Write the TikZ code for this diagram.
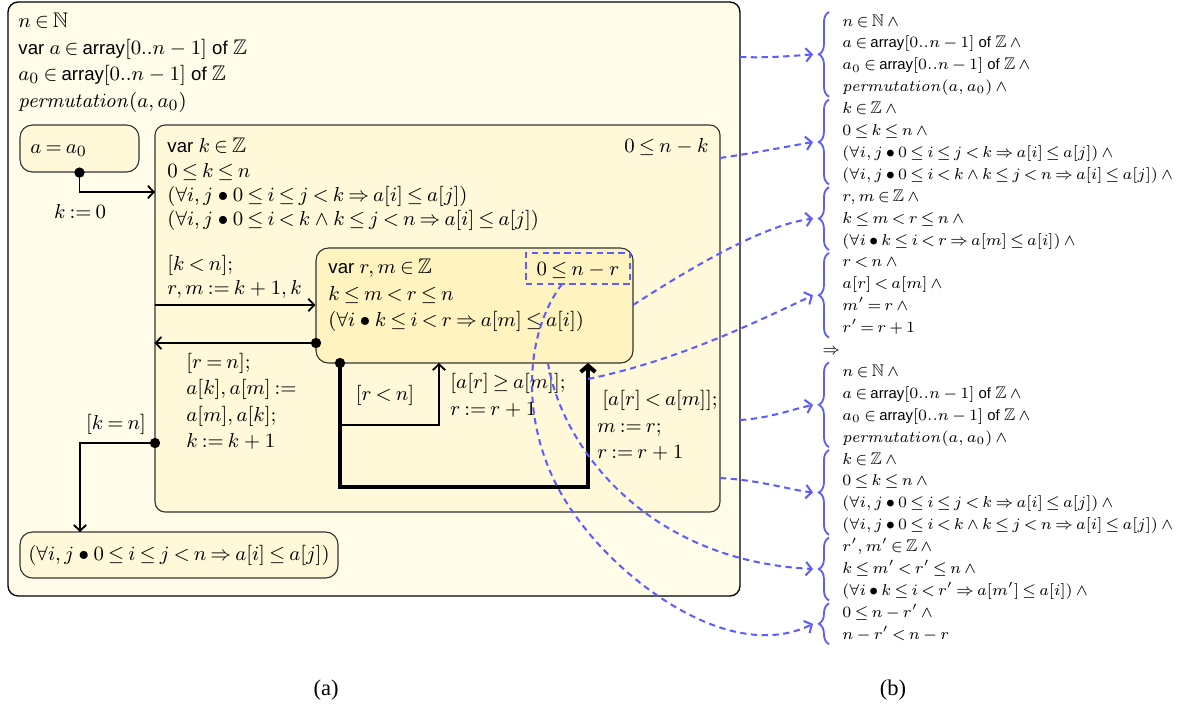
\documentclass[tikz,border=0pt]{standalone}
\usepackage{amssymb}
\usepackage[no-math]{fontspec}
\setmainfont{Liberation Serif}
\setsansfont{Liberation Sans}[Scale=0.88]
\usetikzlibrary{arrows.meta,fit,decorations.pathreplacing}
\definecolor{outerfill}{RGB}{255,252,234}
\definecolor{midfill}{RGB}{255,249,218}
\definecolor{innerfill}{RGB}{255,244,192}
\definecolor{linkblue}{RGB}{92,92,255}
\newcommand\sfw[1]{\textsf{#1}}
\newcommand\rline[2]{\node[rtxt] (r#1) at (842,{26+21.9*#1}) {#2};}
\newcommand\rfont{\fontsize{7.5}{9}\selectfont\thickmuskip=3mu plus 1mu\medmuskip=3mu plus 1mu}
\begin{document}
\thickmuskip=3.5mu plus 2mu minus 1mu
\begin{tikzpicture}[x=0.4444pt,y=-0.4444pt,
  font=\fontsize{9.4}{11}\selectfont,
  txt/.style={inner sep=0pt,anchor=base west},
  ctxt/.style={inner sep=0pt,anchor=base},
  rtxt/.style={inner sep=0pt,anchor=base west,font=\rfont},
  frame/.style={draw=black!80,line width=0.5pt,rounded corners=4.5pt,inner sep=0pt},
  conn/.style={line width=0.8pt,-{Straight Barb[length=2.6pt,width=5.5pt]}},
  heavy/.style={line width=1.8pt,-{Straight Barb[length=2.8pt,width=6.5pt]}},
  link/.style={draw=linkblue,line width=0.9pt,dash pattern=on 2.8pt off 2pt,-{Straight Barb[length=2.6pt,width=6pt]}},
  brc/.style={draw=linkblue,line width=0.8pt,decorate,decoration={brace,amplitude=4.5pt}}]
\useasboundingbox (0,0) rectangle (1196,704);

% ---------- boxes ----------
\coordinate (O1) at (8,2);     \coordinate (O2) at (740,596);
\node[frame,draw=black,line width=0.6pt,fill=outerfill,fit=(O1)(O2)] (outer) {};
\coordinate (I1) at (20,125);  \coordinate (I2) at (139,172);
\node[frame,fill=midfill,rounded corners=5.5pt,fit=(I1)(I2)] (init) {};
\coordinate (M1) at (155,125); \coordinate (M2) at (720,512);
\node[frame,fill=midfill,fit=(M1)(M2)] (mid) {};
\coordinate (N1) at (316,248); \coordinate (N2) at (633,363);
\node[frame,fill=innerfill,rounded corners=5.5pt,fit=(N1)(N2)] (inner) {};
\coordinate (D1) at (526,253); \coordinate (D2) at (630,284);
\node[draw=linkblue,line width=0.9pt,dash pattern=on 2.8pt off 2pt,inner sep=0pt,fit=(D1)(D2)] (var) {};
\coordinate (F1) at (20,532);  \coordinate (F2) at (338,578);
\node[frame,fill=midfill,rounded corners=5.5pt,fit=(F1)(F2)] (final) {};

% ---------- texts in the boxes ----------
\node[txt] (o1) at (18,27) {$n \in \mathbb{N}$};
\node[txt] (o2) at (18,54) {$\sfw{var}\ a \in \sfw{array}[0..n-1]\ \sfw{of}\ \mathbb{Z}$};
\node[txt] (o3) at (18,80) {$a_0 \in \sfw{array}[0..n-1]\ \sfw{of}\ \mathbb{Z}$};
\node[txt] (o4) at (18,107) {$\mathit{permutation}(a,a_0)$};

\node[txt] (t0) at (30,153) {$a = a_0$};

\node[txt] (m1) at (167,152) {$\sfw{var}\ k \in \mathbb{Z}$};
\node[txt] (m2) at (167,177) {$0 \le k \le n$};
\node[txt] (m3) at (167,201) {$(\forall i,j \bullet 0 \le i \le j < k \Rightarrow a[i] \le a[j])$};
\node[txt] (m4) at (167,225) {$(\forall i,j \bullet 0 \le i < k \wedge k \le j < n \Rightarrow a[i] \le a[j])$};
\node[inner sep=0pt,anchor=base east] (mv) at (709,152) {$0 \le n-k$};

\node[txt] (n1) at (328,273) {$\sfw{var}\ r,m \in \mathbb{Z}$};
\node[txt] (n2) at (328,300) {$k \le m < r \le n$};
\node[txt] (n3) at (328,326) {$(\forall i \bullet k \le i < r \Rightarrow a[m] \le a[i])$};
\node[ctxt] (nv) at (var.center |- 0,275) {$0 \le n-r$};

\node[ctxt,font=\fontsize{9}{11}\selectfont] (f1) at (179,560) {$(\forall i,j \bullet 0 \le i \le j < n \Rightarrow a[i] \le a[j])$};

% ---------- connectors ----------
\coordinate (kin) at (155,192);
\fill (init.south) circle (2.3pt);
\draw[conn] (init.south) |- (kin);
\node[ctxt] (lk0) at (80,218) {$k := 0$};

\coordinate (kout) at (155,305);
\draw[conn] (kout) -- (inner.west |- kout);
\node[txt] (lkn1) at (167,270) {$[k<n];$};
\node[txt] (lkn2) at (167,294) {$r,m := k+1,k$};

\coordinate (rn) at (316,343);
\fill (rn) circle (2.3pt);
\draw[conn] (rn) -- (mid.west |- rn);
\node[txt] (lrn1) at (186,368) {$[r=n];$};
\node[txt] (lrn2) at (186,394) {$a[k],a[m] :=$};
\node[txt] (lrn3) at (186,421) {$a[m],a[k];$};
\node[txt] (lrn4) at (186,447) {$k := k+1$};

\coordinate (kn) at (155,443);
\coordinate (finin) at (80,532);
\fill (kn) circle (2.3pt);
\draw[conn] (kn) -| (finin);
\node[ctxt] (lkn) at (116,429) {$[k=n]$};

\coordinate (loop) at (340,363);
\coordinate (lbot) at (588,487);
\coordinate (lc) at (588,363);
\coordinate (br) at (340,425);
\coordinate (lt) at (439,363);
\draw[conn] (br) -| (lt);
\draw[heavy] (loop) |- (lbot) -- (lc);
\fill (loop) circle (2.3pt);
\node[ctxt] (lrl) at (385,400) {$[r<n]$};
\node[txt] (lge1) at (450,388) {$[a[r] \ge a[m]];$};
\node[txt] (lge2) at (450,415) {$r := r+1$};
\node[txt] (llt1) at (602,405) {$[a[r] < a[m]];$};
\node[txt] (llt2) at (597,432) {$m := r;$};
\node[txt] (llt3) at (597,458) {$r := r+1$};

% ---------- right column ----------
\rline{0}{$n \in \mathbb{N} \wedge{}$}
\rline{1}{$a \in \sfw{array}[0..n-1]\ \sfw{of}\ \mathbb{Z} \wedge{}$}
\rline{2}{$a_0 \in \sfw{array}[0..n-1]\ \sfw{of}\ \mathbb{Z} \wedge{}$}
\rline{3}{$\mathit{permutation}(a,a_0) \wedge{}$}
\rline{4}{$k \in \mathbb{Z} \wedge{}$}
\rline{5}{$0 \le k \le n \wedge{}$}
\rline{6}{$(\forall i,j \bullet 0 \le i \le j < k \Rightarrow a[i] \le a[j]) \wedge{}$}
\rline{7}{$(\forall i,j \bullet 0 \le i < k \wedge k \le j < n \Rightarrow a[i] \le a[j]) \wedge{}$}
\rline{8}{$r,m \in \mathbb{Z} \wedge{}$}
\rline{9}{$k \le m < r \le n \wedge{}$}
\rline{10}{$(\forall i \bullet k \le i < r \Rightarrow a[m] \le a[i]) \wedge{}$}
\rline{11}{$r < n \wedge{}$}
\rline{12}{$a[r] < a[m] \wedge{}$}
\rline{13}{$m' = r \wedge{}$}
\rline{14}{$r' = r+1$}
\node[rtxt] (r15) at (822,{26+21.9*15}) {$\Rightarrow$};
\rline{16}{$n \in \mathbb{N} \wedge{}$}
\rline{17}{$a \in \sfw{array}[0..n-1]\ \sfw{of}\ \mathbb{Z} \wedge{}$}
\rline{18}{$a_0 \in \sfw{array}[0..n-1]\ \sfw{of}\ \mathbb{Z} \wedge{}$}
\rline{19}{$\mathit{permutation}(a,a_0) \wedge{}$}
\rline{20}{$k \in \mathbb{Z} \wedge{}$}
\rline{21}{$0 \le k \le n \wedge{}$}
\rline{22}{$(\forall i,j \bullet 0 \le i \le j < k \Rightarrow a[i] \le a[j]) \wedge{}$}
\rline{23}{$(\forall i,j \bullet 0 \le i < k \wedge k \le j < n \Rightarrow a[i] \le a[j]) \wedge{}$}
\rline{24}{$r',m' \in \mathbb{Z} \wedge{}$}
\rline{25}{$k \le m' < r' \le n \wedge{}$}
\rline{26}{$(\forall i \bullet k \le i < r' \Rightarrow a[m'] \le a[i]) \wedge{}$}
\rline{27}{$0 \le n-r' \wedge{}$}
\rline{28}{$n-r' < n-r$}

% braces
\draw[brc] (829,96.7) -- (829,12);
\draw[brc] (829,184.3) -- (829,99.6);
\draw[brc] (829,250) -- (829,187.2);
\draw[brc] (829,337.6) -- (829,252.9);
\draw[brc] (829,447.1) -- (829,362.4);
\draw[brc] (829,534.7) -- (829,450);
\draw[brc] (829,600.4) -- (829,537.6);
\draw[brc] (829,644.2) -- (829,603.3);
\coordinate (g1) at (813,54.4);
\coordinate (g2) at (813,142);
\coordinate (g3) at (813,218.6);
\coordinate (g4) at (813,295.3);
\coordinate (g5) at (813,404.8);
\coordinate (g6) at (813,492.4);
\coordinate (g7) at (813,569);
\coordinate (g8) at (813,623.8);

% ---------- dashed links ----------
\coordinate (s1) at (740,57);
\coordinate (s2) at (720,158);
\coordinate (s3) at (633,305);
\coordinate (s4) at (588,379);
\coordinate (s5) at (740,420);
\coordinate (s6) at (720,478);
\coordinate (s7) at (548,363);
\coordinate (s8) at (562,284);
\coordinate (s8m) at (575,515);
\draw[link] (s1) .. controls (770,58) and (790,56) .. (g1);
\draw[link] (s2) .. controls (760,152) and (790,146) .. (g2);
\draw[link] (s3) .. controls (680,275) and (760,225) .. (g3);
\draw[link] (s4) .. controls (680,360) and (760,320) .. (g4);
\draw[link] (s5) .. controls (770,418) and (790,410) .. (g5);
\draw[link] (s6) .. controls (760,480) and (790,490) .. (g6);
\draw[link] (s7) .. controls (560,440) and (640,560) .. (g7);
\draw[link] (s8) .. controls (520,340) and (520,440) .. (s8m) .. controls (620,580) and (730,665) .. (g8);

% ---------- captions ----------
\node[ctxt,font=\fontsize{10}{12}\selectfont] (capa) at (326,695) {(a)};
\node[ctxt,font=\fontsize{10}{12}\selectfont] (capb) at (893,695) {(b)};
\end{tikzpicture}
\end{document}
